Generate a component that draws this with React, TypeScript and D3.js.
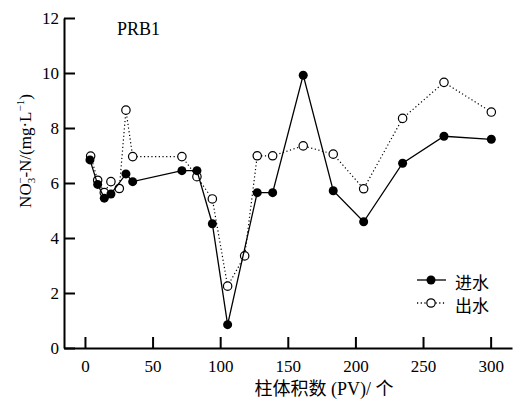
import React, { useEffect, useRef } from "react";
import * as d3 from "d3";

// 柱体积数 (PV) and NO3--N for inflow (进水) / outflow (出水)
const pvIn = [3.7, 9.4, 14.3, 19.2, 30.3, 35.3, 71.7, 82.8, 94.2, 105.5, 127.4, 138.8, 161.4, 183.6, 206.1, 234.9, 265.5, 300.5];
const no3In = [6.84, 5.95, 5.45, 5.6, 6.33, 6.05, 6.45, 6.45, 4.52, 0.85, 5.65, 5.65, 9.92, 5.72, 4.59, 6.72, 7.7, 7.59];
const pvOut = [4.2, 9.4, 14.3, 19.2, 25.4, 30.3, 35.3, 71.7, 82.8, 94.2, 105.5, 118.1, 127.4, 138.8, 161.4, 183.6, 206.1, 234.9, 265.5, 300.5];
const no3Out = [6.98, 6.1, 5.65, 6.05, 5.8, 8.65, 6.96, 6.96, 6.23, 5.42, 2.25, 3.35, 6.99, 6.99, 7.35, 7.05, 5.79, 8.35, 9.66, 8.58];

const xTicks = [0, 50, 100, 150, 200, 250, 300];
const yTicks = [0, 2, 4, 6, 8, 10, 12];
const legendLabels = ["进水", "出水"];

const FONT = "'Liberation Serif', 'Times New Roman', 'Noto Sans CJK SC', serif";

export default function App() {
    const svgRef = useRef<SVGSVGElement>(null);

    useEffect(() => {
        const svg = d3.select(svgRef.current);
        svg.selectAll("*").remove();

        const width = 513;
        const height = 402;
        svg.attr("width", width).attr("height", height);

        const x = d3.scaleLinear().domain([-15.5, 315.8]).range([64, 512]);
        const y = d3.scaleLinear().domain([0, 12]).range([348, 18]);

        // axes
        const yAxis = d3.axisLeft(y).tickValues(yTicks).tickSizeInner(-11).tickSizeOuter(0).tickPadding(5);
        const gy = svg.append("g").attr("transform", "translate(64,0)").call(yAxis);
        const xAxis = d3.axisBottom(x).tickValues(xTicks).tickSizeInner(-11).tickSizeOuter(0).tickPadding(12);
        const gx = svg.append("g").attr("transform", "translate(0,348)").call(xAxis);

        [gx, gy].forEach((g) => {
            g.attr("font-family", FONT).attr("font-size", 17);
            g.selectAll("path").attr("stroke", "#000").attr("stroke-width", 2);
            g.selectAll("line").attr("stroke", "#000").attr("stroke-width", 2);
            g.selectAll("text").attr("fill", "#000");
        });

        const line = d3.line<[number, number]>()
            .x((d) => x(d[0]))
            .y((d) => y(d[1]));

        const outData: [number, number][] = pvOut.map((v, i) => [v, no3Out[i]]);
        const inData: [number, number][] = pvIn.map((v, i) => [v, no3In[i]]);

        // outflow (dotted, open circles)
        svg.append("path")
            .datum(outData)
            .attr("d", line)
            .attr("fill", "none")
            .attr("stroke", "#000")
            .attr("stroke-width", 1.2)
            .attr("stroke-dasharray", "1.2,2.5");
        svg.selectAll(".pt-out")
            .data(outData)
            .enter()
            .append("circle")
            .attr("cx", (d) => x(d[0]))
            .attr("cy", (d) => y(d[1]))
            .attr("r", 4.2)
            .attr("fill", "#fff")
            .attr("stroke", "#000")
            .attr("stroke-width", 1.2);

        // inflow (solid, filled circles)
        svg.append("path")
            .datum(inData)
            .attr("d", line)
            .attr("fill", "none")
            .attr("stroke", "#000")
            .attr("stroke-width", 1.3);
        svg.selectAll(".pt-in")
            .data(inData)
            .enter()
            .append("circle")
            .attr("cx", (d) => x(d[0]))
            .attr("cy", (d) => y(d[1]))
            .attr("r", 4.5)
            .attr("fill", "#000");

        // legend
        const lg = svg.append("g").attr("font-family", FONT).attr("font-size", 17);
        legendLabels.forEach((label, i) => {
            const ly = 280 + i * 23;
            lg.append("line")
                .attr("x1", 417).attr("x2", 446)
                .attr("y1", ly).attr("y2", ly)
                .attr("stroke", "#000")
                .attr("stroke-width", 1.3)
                .attr("stroke-dasharray", i === 0 ? null : "1.2,2.5");
            lg.append("circle")
                .attr("cx", 431).attr("cy", ly)
                .attr("r", i === 0 ? 4.5 : 4.2)
                .attr("fill", i === 0 ? "#000" : "#fff")
                .attr("stroke", "#000")
                .attr("stroke-width", i === 0 ? 0 : 1.2);
            lg.append("text")
                .attr("x", 455).attr("y", ly + 3)
                .attr("dominant-baseline", "central")
                .text(label);
        });

        // panel title
        svg.append("text")
            .attr("x", 117).attr("y", 35)
            .attr("font-family", FONT).attr("font-size", 18)
            .text("PRB1");

        // x label
        svg.append("text")
            .attr("x", 324).attr("y", 395)
            .attr("text-anchor", "middle")
            .attr("font-family", FONT).attr("font-size", 18)
            .text("柱体积数 (PV)/ 个");

        // y label
        const yl = svg.append("text")
            .attr("transform", "translate(31,151) rotate(-90)")
            .attr("text-anchor", "middle")
            .attr("font-family", FONT).attr("font-size", 17);
        yl.append("tspan").text("NO");
        yl.append("tspan").attr("font-size", 11).attr("dy", 4).text("3");
        yl.append("tspan").attr("font-size", 11).attr("dx", -6).attr("dy", -11).text("−");
        yl.append("tspan").attr("dy", 7).text("-N/(mg·L");
        yl.append("tspan").attr("font-size", 11).attr("dy", -7).text("−1");
        yl.append("tspan").attr("dy", 7).text(")");
    }, []);

    return (
        <svg
            ref={svgRef}
            style={{ position: "absolute", left: 0, top: 0, display: "block", background: "#fff" }}
        ></svg>
    );
}
